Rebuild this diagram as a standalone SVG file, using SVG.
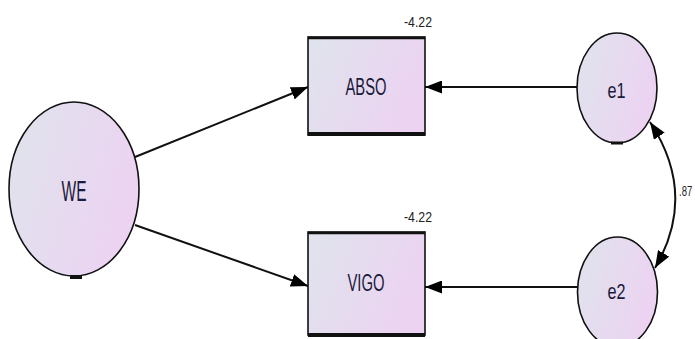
<svg xmlns="http://www.w3.org/2000/svg" width="695" height="339" viewBox="0 0 695 339">
<defs>
<linearGradient id="g" x1="0" y1="0" x2="1" y2="0.35">
<stop offset="0" stop-color="#dfe4ec"/>
<stop offset="1" stop-color="#ecd3f2"/>
</linearGradient>
<marker id="ah" viewBox="0 0 17 13" refX="17" refY="6.5" markerWidth="17" markerHeight="13" markerUnits="userSpaceOnUse" orient="auto-start-reverse">
<path d="M0,0 L17,6.5 L0,13 z" fill="#000"/>
</marker>
</defs>
<style>
.node{fill:url(#g);stroke:#111;stroke-width:1.6}
.edge{stroke:#111;stroke-width:2;fill:none}
.lbl{font-family:"Liberation Sans",Arial,sans-serif;fill:#1a1a3a;text-anchor:middle}
.num{font-family:"Liberation Sans",Arial,sans-serif;fill:#222;font-size:14px}
.thick{stroke:#111;fill:none}
</style>
<g id="connectors">
<line class="edge" x1="135" y1="157" x2="308" y2="87" marker-end="url(#ah)"/>
<line class="edge" x1="135" y1="225" x2="308" y2="286" marker-end="url(#ah)"/>
<line class="edge" x1="577" y1="87" x2="425" y2="87" marker-end="url(#ah)"/>
<line class="edge" x1="578" y1="287" x2="425" y2="287" marker-end="url(#ah)"/>
<path class="edge" d="M650,122 Q698,195 655,268" stroke-width="1.6" marker-start="url(#ah)" marker-end="url(#ah)"/>
<text class="num" transform="translate(679,196) scale(0.68,1)">.87</text>
</g>
<g id="WE">
<ellipse class="node" cx="74" cy="189" rx="65" ry="87"/>
<path d="M70,277 L82,277" stroke="#111" stroke-width="4"/>
<text class="lbl" x="74" y="201" font-size="29" textLength="25" lengthAdjust="spacingAndGlyphs">WE</text>
</g>
<g id="ABSO">
<rect class="node" x="308" y="37" width="117" height="98"/>
<line class="thick" x1="308" y1="38" x2="425" y2="38" stroke-width="2.5"/>
<line class="thick" x1="308" y1="134" x2="425" y2="134" stroke-width="4"/>
<text class="lbl" x="366" y="95" font-size="23" textLength="41" lengthAdjust="spacingAndGlyphs">ABSO</text>
<text class="num" x="404" y="27" textLength="28" lengthAdjust="spacingAndGlyphs">-4.22</text>
</g>
<g id="VIGO">
<rect class="node" x="308" y="232" width="117" height="103"/>
<line class="thick" x1="308" y1="233" x2="425" y2="233" stroke-width="2.5"/>
<line class="thick" x1="308" y1="335" x2="425" y2="335" stroke-width="4"/>
<text class="lbl" x="366" y="291" font-size="23" textLength="37" lengthAdjust="spacingAndGlyphs">VIGO</text>
<text class="num" x="404" y="222" textLength="28" lengthAdjust="spacingAndGlyphs">-4.22</text>
</g>
<g id="e1">
<ellipse class="node" cx="617" cy="88" rx="40" ry="55"/>
<path d="M611,143 L623,143" stroke="#111" stroke-width="3"/>
<text class="lbl" x="616.5" y="98" font-size="22" textLength="18" lengthAdjust="spacingAndGlyphs">e1</text>
</g>
<g id="e2">
<ellipse class="node" cx="617.5" cy="292" rx="40" ry="55"/>
<text class="lbl" x="616.5" y="299" font-size="22" textLength="18" lengthAdjust="spacingAndGlyphs">e2</text>
</g>
</svg>
